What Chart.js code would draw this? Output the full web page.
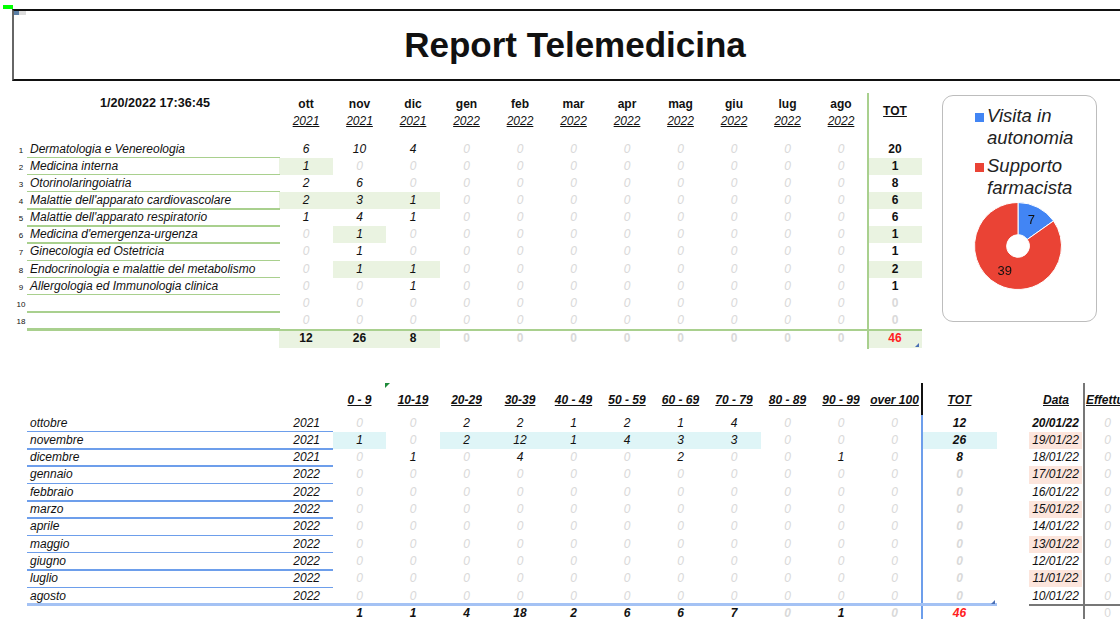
<!DOCTYPE html>
<html>
<head>
<meta charset="utf-8">
<script src="https://cdn.jsdelivr.net/npm/chart.js@4/dist/chart.umd.min.js"></script>
<style>
  body { margin: 0; width: 1120px; height: 619px; overflow: hidden; background: #fff;
         font-family: "Liberation Sans", Arial, sans-serif; color: #111; position: relative; }
  .a { position: absolute; white-space: nowrap; }
  .c { text-align: center; }
  .i { font-style: italic; }
  .b { font-weight: bold; }
  .u { text-decoration: underline; }
  .z { color: #d9d9d9; }
  .red { color: #ff2020; }
</style>
</head>
<body>
<script>
// ---- data ----
var stamp = "1/20/2022 17:36:45";
var monthShort = ["ott","nov","dic","gen","feb","mar","apr","mag","giu","lug","ago"];
var monthYear = ["2021","2021","2021","2022","2022","2022","2022","2022","2022","2022","2022"];
var specialtyNum = ["1","2","3","4","5","6","7","8","9","10","18"];
var specialties = ["Dermatologia e Venereologia","Medicina interna","Otorinolaringoiatria",
  "Malattie dell'apparato cardiovascolare","Malattie dell'apparato respiratorio",
  "Medicina d'emergenza-urgenza","Ginecologia ed Ostetricia",
  "Endocrinologia e malattie del metabolismo","Allergologia ed Immunologia clinica","",""];
var dermatologia  = [6,10,4,0,0,0,0,0,0,0,0];
var medInterna    = [1,0,0,0,0,0,0,0,0,0,0];
var otorino       = [2,6,0,0,0,0,0,0,0,0,0];
var cardio        = [2,3,1,0,0,0,0,0,0,0,0];
var respiratorio  = [1,4,1,0,0,0,0,0,0,0,0];
var emergenza     = [0,1,0,0,0,0,0,0,0,0,0];
var ginecologia   = [0,1,0,0,0,0,0,0,0,0,0];
var endocrino     = [0,1,1,0,0,0,0,0,0,0,0];
var allergologia  = [0,0,1,0,0,0,0,0,0,0,0];
var riga10        = [0,0,0,0,0,0,0,0,0,0,0];
var riga18        = [0,0,0,0,0,0,0,0,0,0,0];
var specialtyTot  = [20,1,8,6,6,1,1,2,1,0,0];
var monthTot      = [12,26,8,0,0,0,0,0,0,0,0];
var grandTot = 46;

var pieLabels = ["Visita in autonomia","Supporto farmacista"];
var pieValues = [7,39];
var pieColors = ["#4285f4","#ea4335"];

var ageBands = ["0 - 9","10-19","20-29","30-39","40 - 49","50 - 59","60 - 69","70 - 79","80 - 89","90 - 99","over 100"];
var monthLong = ["ottobre","novembre","dicembre","gennaio","febbraio","marzo","aprile","maggio","giugno","luglio","agosto"];
var ageOttobre  = [0,0,2,2,1,2,1,4,0,0,0];
var ageNovembre = [1,0,2,12,1,4,3,3,0,0,0];
var ageDicembre = [0,1,0,4,0,0,2,0,0,1,0];
var ageEmpty    = [0,0,0,0,0,0,0,0,0,0,0];
var ageMonthTot = [12,26,8,0,0,0,0,0,0,0,0];
var ageBandTot  = [1,1,4,18,2,6,6,7,0,1,0];
var dates = ["20/01/22","19/01/22","18/01/22","17/01/22","16/01/22","15/01/22","14/01/22","13/01/22","12/01/22","11/01/22","10/01/22"];
var effettuate = [0,0,0,0,0,0,0,0,0,0,0];

var topRows = [dermatologia,medInterna,otorino,cardio,respiratorio,emergenza,ginecologia,endocrino,allergologia,riga10,riga18];
var ageRows = [ageOttobre,ageNovembre,ageDicembre,ageEmpty,ageEmpty,ageEmpty,ageEmpty,ageEmpty,ageEmpty,ageEmpty,ageEmpty];

// ---- helpers ----
function box(x, y, w, h, css) {
  var d = document.createElement("div");
  d.className = "a";
  d.style.cssText = "left:" + x + "px;top:" + y + "px;width:" + w + "px;height:" + h + "px;" + (css || "");
  document.body.appendChild(d);
  return d;
}
function txt(s, x, y, w, h, cls, size) {
  var d = box(x, y, w, h, "line-height:" + h + "px;font-size:" + (size || 12) + "px;");
  d.className = "a " + (cls || "");
  d.textContent = s;
  return d;
}

// ---- header ----
box(3, 5, 10, 4, "background:#00ff00;");
box(12, 9, 1120, 68, "border-top:2px solid #111;border-bottom:2px solid #111;border-left:2px solid #666;");
box(14, 11, 5, 4, "background:#5b7fa6;");
box(19, 11, 7, 4, "background:#ddd;");
txt("Report Telemedicina", 12, 11, 1126, 68, "c b", 35);

// ---- top table ----
var colW = 53.5, col0 = 279.25, rowH = 17.15, row0 = 140.5;
var green = "#eaf3e1", greenLine = "#a9d08e";
// highlighted cells [row, col]
var hl = [[1,0],[3,0],[3,1],[3,2],[5,1],[7,1],[7,2]];
hl.forEach(function (p) { box(col0 + p[1]*colW, row0 + p[0]*rowH, colW, rowH, "background:" + green + ";"); });
for (var r = 1; r < 9; r += 2) box(868, row0 + r*rowH, 54, rowH, "background:" + green + ";");
box(col0, 329.5, colW*3, 18, "background:" + green + ";");
box(868, 329.5, 54, 18, "background:" + green + ";");

txt(stamp, 40, 95, 230, 16, "c b", 12.6);
monthShort.forEach(function (m, i) {
  txt(m, col0 + i*colW, 96, colW, 16, "c b", 12);
  txt(monthYear[i], col0 + i*colW, 113, colW, 16, "c i u", 12);
});
txt("TOT", 868, 103, 54, 16, "c b u", 12);
box(867, 93, 2, 256, "background:" + greenLine + ";");

specialties.forEach(function (s, r) {
  var y = row0 + r*rowH;
  txt(specialtyNum[r], 14, y + 1, 14, rowH, "c", 8);
  txt(s, 30, y, 250, rowH, "i", 12);
  box(27, y + rowH - 1, 253, 1.5, "background:" + greenLine + ";");
  topRows[r].forEach(function (v, c) {
    txt(String(v), col0 + c*colW, y, colW, rowH, "c i" + (v ? "" : " z"), 12);
  });
  txt(String(specialtyTot[r]), 868, y, 54, rowH, "c b" + (specialtyTot[r] ? "" : " z"), 12);
});
box(27, 328.5, 895, 2, "background:" + greenLine + ";");
monthTot.forEach(function (v, c) {
  txt(String(v), col0 + c*colW, 330, colW, 17, "c b" + (v ? "" : " z"), 12);
});
txt(String(grandTot), 868, 330, 54, 17, "c b red", 12);
box(915, 343, 4, 4, "background:#4a6fb5;clip-path:polygon(100% 0,100% 100%,0 100%);");

// ---- pie card ----
box(942, 95, 153, 225, "border:1.5px solid #bdbdbd;border-radius:11px;");
[[0, 112, "Visita in", "autonomia"], [1, 162, "Supporto", "farmacista"]].forEach(function (l) {
  box(975, l[1] + 1, 9, 9, "background:" + pieColors[l[0]] + ";");
  txt(l[2], 987, l[1] - 7, 120, 22, "i", 18.5).style.color = "#222";
  txt(l[3], 987, l[1] + 15, 120, 22, "i", 18.5).style.color = "#222";
});
var cv = document.createElement("canvas");
cv.width = 88; cv.height = 88;
cv.style.cssText = "position:absolute;left:974px;top:202px;";
document.body.appendChild(cv);

var pieNumbers = {
  id: "pieNumbers",
  afterDatasetsDraw: function (chart) {
    var ctx = chart.ctx;
    chart.getDatasetMeta(0).data.forEach(function (arc, i) {
      var a = (arc.startAngle + arc.endAngle) / 2;
      var rr = arc.innerRadius + (arc.outerRadius - arc.innerRadius) * 0.55;
      ctx.save();
      ctx.fillStyle = "#111";
      ctx.font = "13px 'Liberation Sans', Arial";
      ctx.textAlign = "center";
      ctx.textBaseline = "middle";
      ctx.fillText(String(pieValues[i]), arc.x + Math.cos(a)*rr, arc.y + Math.sin(a)*rr);
      ctx.restore();
    });
  }
};
new Chart(cv, {
  type: "doughnut",
  data: { labels: pieLabels, datasets: [{ data: pieValues, backgroundColor: pieColors, borderColor: "#fff", borderWidth: 1 }] },
  options: {
    responsive: false, animation: false, cutout: "26%",
    plugins: { legend: { display: false }, tooltip: { enabled: false } }
  },
  plugins: [pieNumbers]
});

// ---- age table ----
var arow0 = 414.5, arowH = 17.3, acol0 = 332.75;
var cyan = "#dff5f7", blueLine = "#6d9eeb";
box(acol0, arow0 + arowH, colW, arowH, "background:" + cyan + ";");
box(acol0 + 2*colW, arow0 + arowH, colW*6, arowH, "background:" + cyan + ";");
box(922, arow0 + arowH, 75, arowH, "background:" + cyan + ";");
box(385, 383, 5, 5, "background:#1e8a3a;clip-path:polygon(0 0,100% 0,0 100%);");

ageBands.forEach(function (a, i) {
  txt(a, acol0 + i*colW, 392, colW, 16, "c b i u", 12);
});
txt("TOT", 922, 392, 75, 16, "c b i u", 12);
box(921, 383, 1.5, 32, "background:#111;");
box(921, 415, 1.5, 204, "background:" + blueLine + ";");

monthLong.forEach(function (m, r) {
  var y = arow0 + r*arowH;
  txt(m, 30, y, 200, arowH, "i", 12);
  txt(monthYear[r], 270, y, 50, arowH, "i", 12).style.textAlign = "right";
  if (r < 10) box(27, y + arowH - 1, 306, 1.5, "background:" + blueLine + ";");
  ageRows[r].forEach(function (v, c) {
    txt(String(v), acol0 + c*colW, y, colW, arowH, "c i" + (v ? "" : " z"), 12);
  });
  txt(String(ageMonthTot[r]), 922, y, 75, arowH, "c b i" + (ageMonthTot[r] ? "" : " z"), 12);
});
box(27, 603, 970, 3, "background:#a4c2f4;");
ageBandTot.forEach(function (v, c) {
  txt(String(v), acol0 + c*colW, 605, colW, 17, "c b i" + (v ? "" : " z"), 12);
});
txt(String(grandTot), 922, 605, 75, 17, "c b i red", 12);
box(991, 600, 4, 4, "background:#4a6fb5;clip-path:polygon(100% 0,100% 100%,0 100%);");

// ---- dates column ----
txt("Data", 1029, 392, 54, 16, "c b i u", 12);
var eff = box(1084, 392, 36, 16, "overflow:hidden;");
txt("Effettuate", 2, 0, 80, 16, "b i u", 12).remove();
var effT = document.createElement("span");
effT.className = "b i u";
effT.style.cssText = "position:absolute;left:2px;top:0;font-size:12px;line-height:16px;white-space:nowrap;";
effT.textContent = "Effettuate";
eff.appendChild(effT);
box(1083, 383, 1.5, 236, "background:#777;");
box(1029, 604, 91, 1.5, "background:#777;");
dates.forEach(function (d, r) {
  var y = arow0 + r*arowH;
  if (r % 2 === 1) box(1029, y, 53, arowH, "background:#fce5dc;");
  txt(d, 1029, y, 53, arowH, "c i" + (r === 0 ? " b" : ""), 12);
  txt(String(effettuate[r]), 1095, y, 25, arowH, "c i z", 12);
});
txt("0", 1095, 605, 25, 17, "c z", 12);
</script>
</body>
</html>
